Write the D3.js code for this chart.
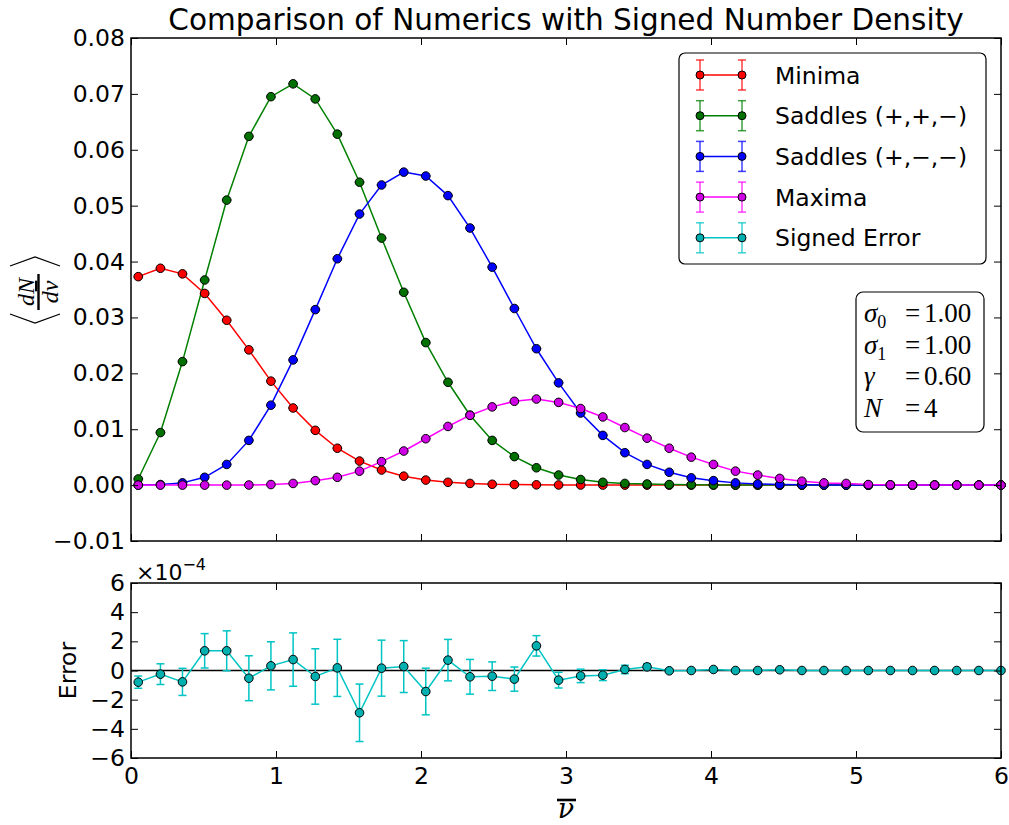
<!DOCTYPE html>
<html>
<head>
<meta charset="utf-8">
<script src="https://cdn.jsdelivr.net/npm/d3@7"></script>
<style>
  body { margin: 0; background: #fff; }
  text { font-family: "DejaVu Sans", sans-serif; }
</style>
</head>
<body>
<div id="canvas"></div>
<script>
// sample points along nu-bar
var nu = [0.050, 0.203, 0.355, 0.508, 0.660, 0.813, 0.965, 1.118, 1.271, 1.423,
          1.576, 1.728, 1.881, 2.033, 2.186, 2.338, 2.491, 2.644, 2.796, 2.949,
          3.101, 3.254, 3.406, 3.559, 3.712, 3.864, 4.017, 4.169, 4.322, 4.474,
          4.627, 4.779, 4.932, 5.085, 5.237, 5.390, 5.542, 5.695, 5.847, 6.000];

var minima = [0.0373, 0.0388, 0.0378, 0.0343, 0.0295, 0.0242, 0.0186, 0.0138, 0.0098, 0.0066,
              0.0043, 0.0027, 0.0016, 0.0009, 0.0005, 0.0003, 0.00015, 0.0001, 0.00005, 0.00003,
              0.00002, 0.00001, 0, 0, 0, 0, 0, 0, 0, 0,
              0, 0, 0, 0, 0, 0, 0, 0, 0, 0];

var saddlesPPM = [0.0011, 0.0094, 0.0221, 0.0367, 0.0510, 0.0624, 0.0695, 0.0718, 0.0691, 0.0628,
                  0.0542, 0.0442, 0.0345, 0.0255, 0.0184, 0.0125, 0.0080, 0.0051, 0.0031, 0.0018,
                  0.0010, 0.0005, 0.0003, 0.0002, 0.0001, 0.00007, 0.00004, 0.00002, 0.00001, 0,
                  0, 0, 0, 0, 0, 0, 0, 0, 0, 0];

var saddlesPMM = [0.0000, 0.0001, 0.0004, 0.0014, 0.0037, 0.0080, 0.0143, 0.0224, 0.0314, 0.0405,
                  0.0485, 0.0537, 0.0560, 0.0553, 0.0518, 0.0460, 0.0390, 0.0316, 0.0244, 0.0183,
                  0.0129, 0.0089, 0.0058, 0.0037, 0.0023, 0.0013, 0.0008, 0.0004, 0.0002, 0.0001,
                  0.00005, 0.00002, 0.00001, 0, 0, 0, 0, 0, 0, 0];

var maxima = [0, 0, 0, 0, 0, 0.00002, 0.0001, 0.0003, 0.0008, 0.0014,
              0.0025, 0.0042, 0.0061, 0.0083, 0.0105, 0.0125, 0.0140, 0.0150, 0.0154, 0.0148,
              0.0137, 0.0122, 0.0103, 0.0084, 0.0066, 0.0050, 0.0037, 0.0025, 0.0018, 0.0012,
              0.0007, 0.0004, 0.0003, 0.0001, 0.00005, 0.00003, 0.00001, 0, 0, 0];

// signed error, in units of 1e-4
var signedError = [-0.80, -0.25, -0.78, 1.35, 1.35, -0.53, 0.32, 0.75, -0.41, 0.18,
                   -2.90, 0.16, 0.27, -1.44, 0.71, -0.43, -0.39, -0.59, 1.69, -0.66,
                   -0.37, -0.32, 0.07, 0.25, -0.02, 0.00, 0.07, 0.00, 0.00, 0.05,
                   0, 0, 0, 0, 0, 0, 0, 0, 0, 0];

var signedErrorBar = [0.42, 0.71, 0.93, 1.18, 1.37, 1.54, 1.65, 1.83, 1.90, 1.96,
                      1.97, 1.92, 1.78, 1.60, 1.42, 1.19, 0.98, 0.83, 0.70, 0.54,
                      0.46, 0.37, 0.29, 0.22, 0.10, 0.06, 0.04, 0.03, 0.02, 0.01,
                      0, 0, 0, 0, 0, 0, 0, 0, 0, 0];

var seriesNames = ['Minima', 'Saddles (+,+,\u2212)', 'Saddles (+,\u2212,\u2212)', 'Maxima', 'Signed Error'];
var seriesLine = ['#ff0000', '#008000', '#0000ff', '#ff00ff', '#00c4c4'];
var seriesFill = ['#ff0000', '#007000', '#0000ff', '#d000e6', '#00b0b0'];

var topTicks = [-0.01, 0, 0.01, 0.02, 0.03, 0.04, 0.05, 0.06, 0.07, 0.08];
var botTicks = [-6, -4, -2, 0, 2, 4, 6];
var xTicks = [0, 1, 2, 3, 4, 5, 6];

var params = [['\u03c3', '0', '1.00'], ['\u03c3', '1', '1.00'], ['\u03b3', '', '0.60'], ['N', '', '4']];

//canvas namespace
var cv = {
  'width': 1009,
  'height': 825,
  'left': 131,
  'right': 1001,
  'topA': 38,
  'bottomA': 541,
  'topB': 583,
  'bottomB': 758,
  'font': 23.5
};

var x = d3.scaleLinear().domain([0, 6]).range([cv.left, cv.right]);
var yTop = d3.scaleLinear().domain([-0.01, 0.08]).range([cv.bottomA, cv.topA]);
var yBot = d3.scaleLinear().domain([-6, 6]).range([cv.bottomB, cv.topB]);

var svg = d3.select('#canvas').append('svg')
  .attr('width', cv.width)
  .attr('height', cv.height);

svg.append('rect').attr('width', cv.width).attr('height', cv.height).attr('fill', '#fff');

//draws the four inward-tick axes round a panel
function panelAxes(y, top, bottom, ticks, fmt, showX) {
  var g = svg.append('g');
  g.append('g').attr('transform', 'translate(' + cv.left + ',0)')
    .call(d3.axisLeft(y).tickValues(ticks).tickSize(-7).tickPadding(6).tickFormat(fmt));
  g.append('g').attr('transform', 'translate(' + cv.right + ',0)')
    .call(d3.axisRight(y).tickValues(ticks).tickSize(-7).tickFormat(''));
  g.append('g').attr('transform', 'translate(0,' + bottom + ')')
    .call(d3.axisBottom(x).tickValues(xTicks).tickSize(-7).tickPadding(9)
      .tickFormat(showX ? d3.format('d') : ''));
  g.append('g').attr('transform', 'translate(0,' + top + ')')
    .call(d3.axisTop(x).tickValues(xTicks).tickSize(-7).tickFormat(''));
  g.selectAll('.domain').remove();
  g.selectAll('.tick line').attr('stroke', '#000').attr('stroke-width', 1);
  g.selectAll('.tick text').attr('font-size', cv.font).attr('fill', '#000')
    .style('font-family', '"DejaVu Sans", sans-serif');
  g.append('rect')
    .attr('x', cv.left).attr('y', top)
    .attr('width', cv.right - cv.left).attr('height', bottom - top)
    .attr('fill', 'none').attr('stroke', '#000').attr('stroke-width', 1.5);
}

//top panel curves
var topSeries = [minima, saddlesPPM, saddlesPMM, maxima];
var lineTop = d3.line().x(function(d, i) { return x(nu[i]); }).y(function(d) { return yTop(d); });

topSeries.forEach(function(vals, k) {
  svg.append('path')
    .datum(vals)
    .attr('d', lineTop)
    .attr('fill', 'none')
    .attr('stroke', seriesLine[k])
    .attr('stroke-width', 1.5);
});
topSeries.forEach(function(vals, k) {
  var g = svg.append('g');
  g.selectAll('.cap').data(vals).enter().append('line')
    .attr('x1', function(d, i) { return x(nu[i]) - 5; })
    .attr('x2', function(d, i) { return x(nu[i]) + 5; })
    .attr('y1', function(d) { return yTop(d); })
    .attr('y2', function(d) { return yTop(d); })
    .attr('stroke', seriesLine[k]).attr('stroke-opacity', 0.6).attr('stroke-width', 1.5);
  g.selectAll('circle').data(vals).enter().append('circle')
    .attr('cx', function(d, i) { return x(nu[i]); })
    .attr('cy', function(d) { return yTop(d); })
    .attr('r', 4.3)
    .attr('fill', seriesFill[k])
    .attr('stroke', '#000').attr('stroke-width', 1);
});

panelAxes(yTop, cv.topA, cv.bottomA, topTicks, d3.format('.2f'), false);

//bottom panel: zero line, error bars, signed error
svg.append('line')
  .attr('x1', cv.left).attr('x2', cv.right)
  .attr('y1', yBot(0)).attr('y2', yBot(0))
  .attr('stroke', '#000').attr('stroke-width', 1.5);

var eb = svg.append('g').attr('stroke', seriesLine[4]).attr('stroke-width', 1.5);
signedError.forEach(function(v, i) {
  var e = signedErrorBar[i];
  if (e <= 0) return;
  var cx = x(nu[i]);
  eb.append('line').attr('x1', cx).attr('x2', cx).attr('y1', yBot(v - e)).attr('y2', yBot(v + e));
  eb.append('line').attr('x1', cx - 4).attr('x2', cx + 4).attr('y1', yBot(v - e)).attr('y2', yBot(v - e));
  eb.append('line').attr('x1', cx - 4).attr('x2', cx + 4).attr('y1', yBot(v + e)).attr('y2', yBot(v + e));
});

var lineBot = d3.line().x(function(d, i) { return x(nu[i]); }).y(function(d) { return yBot(d); });
svg.append('path')
  .datum(signedError)
  .attr('d', lineBot)
  .attr('fill', 'none')
  .attr('stroke', seriesLine[4])
  .attr('stroke-width', 1.5);
svg.append('g').selectAll('circle').data(signedError).enter().append('circle')
  .attr('cx', function(d, i) { return x(nu[i]); })
  .attr('cy', function(d) { return yBot(d); })
  .attr('r', 4.3)
  .attr('fill', seriesFill[4])
  .attr('stroke', '#000').attr('stroke-width', 1);

panelAxes(yBot, cv.topB, cv.bottomB, botTicks, d3.format('d'), true);

//title
svg.append('text')
  .attr('x', (cv.left + cv.right) / 2).attr('y', 30)
  .attr('text-anchor', 'middle')
  .attr('font-size', 29.5)
  .text('Comparison of Numerics with Signed Number Density');

//offset label for bottom panel
var off = svg.append('text').attr('x', 136).attr('y', 580).attr('font-size', 22);
off.append('tspan').text('\u00d710');
off.append('tspan').attr('dy', -10).attr('font-size', 16).text('\u22124');

//y label, top: <dN/dnu-bar>
var yl = svg.append('g').attr('fill', 'none').attr('stroke', '#000').attr('stroke-width', 1.3);
yl.append('path').attr('d', 'M10,266 L35,257 L60,266');
yl.append('path').attr('d', 'M10,314 L35,323 L60,314');
yl.append('line').attr('x1', 38.5).attr('x2', 38.5).attr('y1', 274).attr('y2', 310).attr('stroke-width', 2.4);
svg.append('text')
  .attr('transform', 'translate(34,292) rotate(-90)')
  .attr('text-anchor', 'middle')
  .style('font-family', '"Liberation Serif", serif')
  .style('font-style', 'italic')
  .attr('font-size', 24)
  .text('dN');
var den = svg.append('text')
  .attr('transform', 'translate(58,292) rotate(-90)')
  .attr('text-anchor', 'middle')
  .style('font-family', '"Liberation Serif", serif')
  .style('font-style', 'italic')
  .attr('font-size', 24);
den.append('tspan').text('d');
den.append('tspan').style('text-decoration', 'overline').text('\u03bd');

//y label, bottom
svg.append('text')
  .attr('transform', 'translate(76,' + ((cv.topB + cv.bottomB) / 2) + ') rotate(-90)')
  .attr('text-anchor', 'middle')
  .attr('font-size', cv.font)
  .text('Error');

//x label nu-bar
svg.append('text')
  .attr('x', 566).attr('y', 818)
  .attr('text-anchor', 'middle')
  .style('font-family', '"DejaVu Serif", serif')
  .style('font-style', 'italic')
  .attr('font-size', 27)
  .text('\u03bd');
svg.append('line')
  .attr('x1', 557).attr('x2', 576).attr('y1', 800).attr('y2', 800)
  .attr('stroke', '#000').attr('stroke-width', 2.6);

//legend
var leg = svg.append('g');
leg.append('rect')
  .attr('x', 679).attr('y', 53).attr('width', 307).attr('height', 211)
  .attr('rx', 6).attr('fill', '#fff').attr('stroke', '#000').attr('stroke-width', 1.2);
seriesNames.forEach(function(name, k) {
  var cy = 75 + k * 40.7;
  var row = leg.append('g');
  row.append('line').attr('x1', 700).attr('x2', 742).attr('y1', cy).attr('y2', cy)
    .attr('stroke', seriesLine[k]).attr('stroke-width', 1.5);
  [700, 742].forEach(function(cx) {
    var eg = row.append('g').attr('stroke', seriesLine[k]).attr('stroke-opacity', 0.75).attr('stroke-width', 1.5);
    eg.append('line').attr('x1', cx).attr('x2', cx).attr('y1', cy - 15).attr('y2', cy + 15);
    eg.append('line').attr('x1', cx - 4).attr('x2', cx + 4).attr('y1', cy - 15).attr('y2', cy - 15);
    eg.append('line').attr('x1', cx - 4).attr('x2', cx + 4).attr('y1', cy + 15).attr('y2', cy + 15);
    row.append('circle').attr('cx', cx).attr('cy', cy).attr('r', 4)
      .attr('fill', seriesFill[k]).attr('stroke', '#000').attr('stroke-width', 1);
  });
  row.append('text').attr('x', 775).attr('y', cy + 8.5).attr('font-size', cv.font).text(name);
});

//parameter box
var pb = svg.append('g');
pb.append('rect')
  .attr('x', 856).attr('y', 292).attr('width', 128).attr('height', 140)
  .attr('rx', 7).attr('fill', '#fff').attr('stroke', '#000').attr('stroke-width', 1.2);
params.forEach(function(p, k) {
  var by = 322 + k * 31.5;
  var t = pb.append('text').attr('x', 864).attr('y', by)
    .style('font-family', '"Liberation Serif", serif').attr('font-size', 27);
  t.append('tspan').style('font-style', 'italic').text(p[0]);
  if (p[1]) t.append('tspan').attr('dy', 6).attr('font-size', 18).text(p[1]);
  pb.append('text').attr('x', 905).attr('y', by)
    .style('font-family', '"Liberation Serif", serif').attr('font-size', 27).text('=');
  pb.append('text').attr('x', 924).attr('y', by)
    .style('font-family', '"Liberation Serif", serif').attr('font-size', 27).text(p[2]);
});
</script>
</body>
</html>
